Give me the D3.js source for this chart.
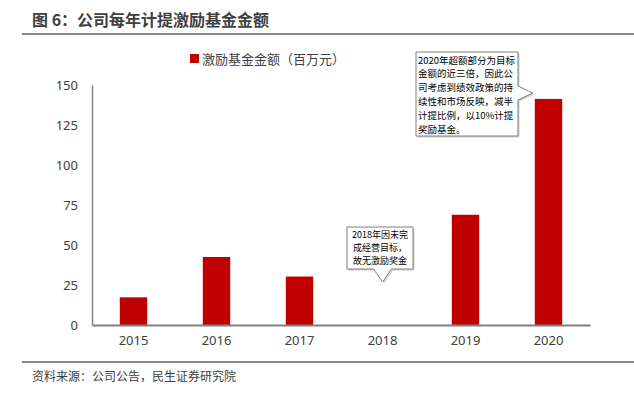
<!DOCTYPE html>
<html>
<head>
<meta charset="utf-8">
<script src="https://cdn.jsdelivr.net/npm/d3@7"></script>
<style>
  body { margin: 0; background: #fff; }
  text { font-family: "Noto Sans CJK SC", "Noto Sans", sans-serif; }
</style>
</head>
<body>
<div id="chart"></div>
<script>
let years = ["2015", "2016", "2017", "2018", "2019", "2020"]
let fund = [17.3, 42.5, 30.3, 0, 68.9, 141.3]
let yTicks = [0, 25, 50, 75, 100, 125, 150]
let seriesName = "激励基金金额（百万元）"
let note2020 = ["2020年超额部分为目标", "金额的近三倍，因此公", "司考虑到绩效政策的持", "续性和市场反映，减半", "计提比例，以10%计提", "奖励基金。"]
let note2018 = ["2018年因未完", "成经营目标，", "故无激励奖金"]

let W = 634, H = 393
let margin = {top: 85, right: 44, bottom: 68, left: 92}
let width = W - margin.left - margin.right
let height = H - margin.top - margin.bottom

let root = d3.select("#chart").append("svg")
    .attr("width", W)
    .attr("height", H)

// title + rules
root.append("text")
    .attr("x", 32).attr("y", 26)
    .attr("font-size", 16).attr("font-weight", "bold")
    .attr("fill", "#404040")
    .text("图 6：公司每年计提激励基金金额")
root.append("line")
    .attr("x1", 22).attr("x2", W).attr("y1", 34).attr("y2", 34)
    .attr("stroke", "#606060").attr("stroke-width", 1.5)
root.append("line")
    .attr("x1", 22).attr("x2", W).attr("y1", 362).attr("y2", 362)
    .attr("stroke", "#606060").attr("stroke-width", 1.5)
root.append("text")
    .attr("x", 32).attr("y", 381)
    .attr("font-size", 12).attr("fill", "#404040")
    .text("资料来源：公司公告，民生证券研究院")

let svg = root.append("g")
    .attr("transform", "translate(" + margin.left + "," + margin.top + ")")

let x = d3.scaleBand().domain(years).range([0, width]).paddingInner(0.67).paddingOuter(0.335)
let y = d3.scaleLinear().domain([0, 150]).range([height, 0])

// axes
let yAxis = svg.append("g")
    .call(d3.axisLeft(y).tickValues(yTicks).tickSize(0).tickPadding(14))
yAxis.select(".domain").attr("stroke", "#808080").attr("stroke-width", 1.5)
yAxis.selectAll("text").attr("font-size", 13).attr("fill", "#404040")
    .style("font-family", "'Noto Sans', sans-serif")

svg.selectAll(".bar")
    .data(fund)
    .enter()
    .append("rect")
    .attr("class", "bar")
    .attr("x", function (d, i) { return x(years[i]) })
    .attr("width", x.bandwidth())
    .attr("y", function (d) { return y(d) })
    .attr("height", function (d) { return height - y(d) })
    .attr("fill", "#c00000")

let xAxis = svg.append("g")
    .attr("transform", "translate(0," + height + ")")
    .call(d3.axisBottom(x).tickSize(0).tickPadding(11))
xAxis.select(".domain").attr("stroke", "#808080").attr("stroke-width", 2)
xAxis.selectAll("text").attr("font-size", 13).attr("fill", "#404040")
    .style("font-family", "'Noto Sans', sans-serif")

// legend
let lg = root.append("g").attr("transform", "translate(190,59)")
lg.append("rect").attr("x", 0).attr("y", -5).attr("width", 9).attr("height", 9).attr("fill", "#c00000")
lg.append("text").attr("x", 12).attr("y", 4.5)
    .attr("font-size", 13).attr("fill", "#404040").text(seriesName)

// callouts
function callout(lines, bx, by, bw, bh, arrow, fs, lh, anchor) {
    let p
    if (arrow.side === "right") {
        let ay = arrow.y
        p = [[bx, by], [bx + bw, by], [bx + bw, ay - 7], [arrow.tx, ay], [bx + bw, ay + 7],
             [bx + bw, by + bh], [bx, by + bh]]
    } else {
        let ax = arrow.x
        p = [[bx, by], [bx + bw, by], [bx + bw, by + bh], [ax + 9, by + bh], [ax, arrow.ty],
             [ax - 9, by + bh], [bx, by + bh]]
    }
    let g = root.append("g")
    g.append("path")
        .attr("d", d3.line()(p.map(function (q) { return [q[0] + 1.5, q[1] + 1.5] })) + "Z")
        .attr("fill", "#d0d0d0")
    g.append("path")
        .attr("d", d3.line()(p) + "Z")
        .attr("fill", "#fff").attr("stroke", "#7f7f7f").attr("stroke-width", 1)
    g.selectAll("text").data(lines).enter().append("text")
        .attr("x", anchor === "start" ? bx + 2 : bx + bw / 2)
        .attr("y", function (d, i) { return by + 2 + fs + i * lh })
        .attr("text-anchor", anchor)
        .attr("font-size", fs).attr("fill", "#000")
        .text(function (d) { return d })
}

let x2020 = margin.left + x("2020")
callout(note2020, 416, 52, 102, 84, {side: "right", y: 93, tx: x2020 - 2}, 9.5, 13.8, "start")
let x2018 = margin.left + x("2018") + x.bandwidth() / 2
callout(note2018, 347, 227, 66, 42, {side: "down", x: x2018, ty: 282}, 9, 13.2, "middle")
</script>
</body>
</html>
